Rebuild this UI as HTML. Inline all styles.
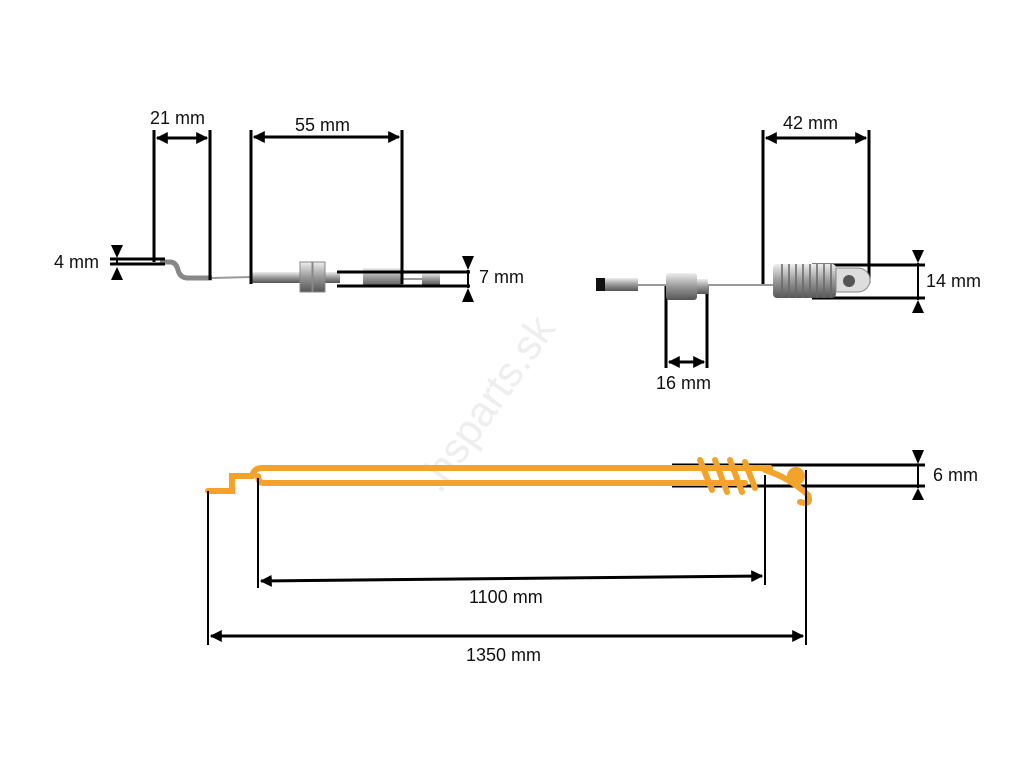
<!DOCTYPE html>
<html><head><meta charset="utf-8"><style>body{margin:0;background:#fff}svg{display:block}text{font-family:"Liberation Sans",sans-serif;font-size:18px;fill:#111}</style></head><body>
<svg width="1024" height="768" viewBox="0 0 1024 768" xmlns="http://www.w3.org/2000/svg">
<defs>
<marker id="a" viewBox="0 0 10 10" refX="9" refY="5" markerWidth="4" markerHeight="4" orient="auto-start-reverse"><path d="M0,0L10,5L0,10z" fill="#000"/></marker>
<linearGradient id="m" x1="0" y1="0" x2="0" y2="1"><stop offset="0" stop-color="#eee"/><stop offset=".5" stop-color="#999"/><stop offset="1" stop-color="#555"/></linearGradient>
</defs>
<text x="0" y="0" transform="translate(440,495) rotate(-55)" style="font-size:42px;fill:#eee">.hsparts.sk</text>
<path d="M160,262 L170,262 Q176,262 178,270 Q180,278 188,278 L212,278" stroke="#888" stroke-width="5" fill="none"/>
<line x1="212" y1="278" x2="252" y2="277" stroke="#999" stroke-width="2"/>
<rect x="252" y="272" width="88" height="11" fill="url(#m)"/>
<rect x="300" y="262" width="12" height="30" fill="url(#m)" stroke="#888"/>
<rect x="313" y="262" width="12" height="30" fill="url(#m)" stroke="#888"/>
<rect x="363" y="268" width="40" height="19" fill="url(#m)"/>
<line x1="403" y1="279" x2="424" y2="279" stroke="#999" stroke-width="2"/>
<rect x="422" y="273" width="18" height="12" fill="url(#m)"/>
<g stroke="#000" stroke-width="3">
<line x1="154" y1="130" x2="154" y2="262"/><line x1="210" y1="130" x2="210" y2="280"/>
<line x1="251" y1="130" x2="251" y2="284"/><line x1="402" y1="130" x2="402" y2="284"/>
<line x1="110" y1="259" x2="165" y2="259"/><line x1="110" y1="264" x2="165" y2="264"/>
<line x1="337" y1="272" x2="470" y2="272"/><line x1="337" y1="286" x2="470" y2="286"/>
<line x1="763" y1="130" x2="763" y2="284"/><line x1="869" y1="130" x2="869" y2="283"/>
<line x1="812" y1="265" x2="925" y2="265"/><line x1="812" y1="298" x2="925" y2="298"/>
<line x1="666" y1="285" x2="666" y2="368"/><line x1="707" y1="285" x2="707" y2="368"/>
<line x1="672" y1="465" x2="925" y2="465"/><line x1="672" y1="486" x2="925" y2="486"/>
</g>
<g stroke="#000" stroke-width="3" marker-start="url(#a)" marker-end="url(#a)">
<line x1="157" y1="138" x2="207" y2="138"/>
<line x1="254" y1="137" x2="399" y2="137"/>
<line x1="766" y1="138" x2="866" y2="138"/>
<line x1="669" y1="362" x2="704" y2="362"/>
<line x1="261" y1="581" x2="762" y2="576"/>
<line x1="211" y1="636" x2="803" y2="636"/>
</g>
<g fill="#000">
<path d="M111,245h12l-6,13z M111,280h12l-6,-13z"/>
<path d="M462,256h12l-6,14z M462,302h12l-6,-14z"/>
<path d="M912,250h12l-6,13z M912,313h12l-6,-13z"/>
<path d="M912,450h12l-6,14z M912,500h12l-6,-12z"/>
</g>
<g stroke="#000" stroke-width="2"><line x1="117" y1="258" x2="117" y2="265"/><line x1="468" y1="270" x2="468" y2="288"/><line x1="918" y1="263" x2="918" y2="300"/><line x1="918" y1="464" x2="918" y2="488"/></g>
<line x1="600" y1="285" x2="775" y2="285" stroke="#999" stroke-width="2"/>
<rect x="596" y="278" width="9" height="13" fill="#111"/>
<rect x="605" y="278" width="33" height="13" fill="url(#m)"/>
<rect x="666" y="273" width="31" height="27" rx="3" fill="url(#m)"/>
<rect x="697" y="279" width="11" height="15" fill="url(#m)"/>
<rect x="773" y="264" width="63" height="34" rx="4" fill="url(#m)"/>
<g stroke="#666" stroke-width="1.5"><path d="M782,264v34M789,264v34M796,264v34M803,264v34M810,264v34M817,264v34M824,264v34M831,264v34"/></g>
<path d="M836,268h22a12,12 0 0 1 0,24h-22z" fill="#ddd" stroke="#888"/>
<circle cx="849" cy="281" r="6" fill="#555"/>
<g stroke="#f3a32a" stroke-width="6" fill="none" stroke-linecap="round">
<path d="M208,491 L232,491 L232,476 L252,476 Q254,468 262,468 L770,468"/>
<path d="M258,476 Q258,483 264,483 L745,483"/>
<path d="M700,460 L712,490 M715,460 L727,492 M730,460 L742,492 M745,462 L755,488"/>
<path d="M765,470 Q790,478 808,495 Q812,506 800,502"/>
</g>
<circle cx="796" cy="476" r="9" fill="#f3a32a"/>
<g stroke="#000" stroke-width="2">
<line x1="208" y1="491" x2="208" y2="645"/><line x1="258" y1="478" x2="258" y2="588"/>
<line x1="765" y1="475" x2="765" y2="585"/><line x1="806" y1="470" x2="806" y2="645"/>
</g>
<text x="150" y="124">21 mm</text>
<text x="295" y="131">55 mm</text>
<text x="54" y="268">4 mm</text>
<text x="479" y="283">7 mm</text>
<text x="783" y="129">42 mm</text>
<text x="926" y="287">14 mm</text>
<text x="656" y="389">16 mm</text>
<text x="933" y="481">6 mm</text>
<text x="469" y="603">1100 mm</text>
<text x="466" y="661">1350 mm</text>
</svg>
</body></html>
